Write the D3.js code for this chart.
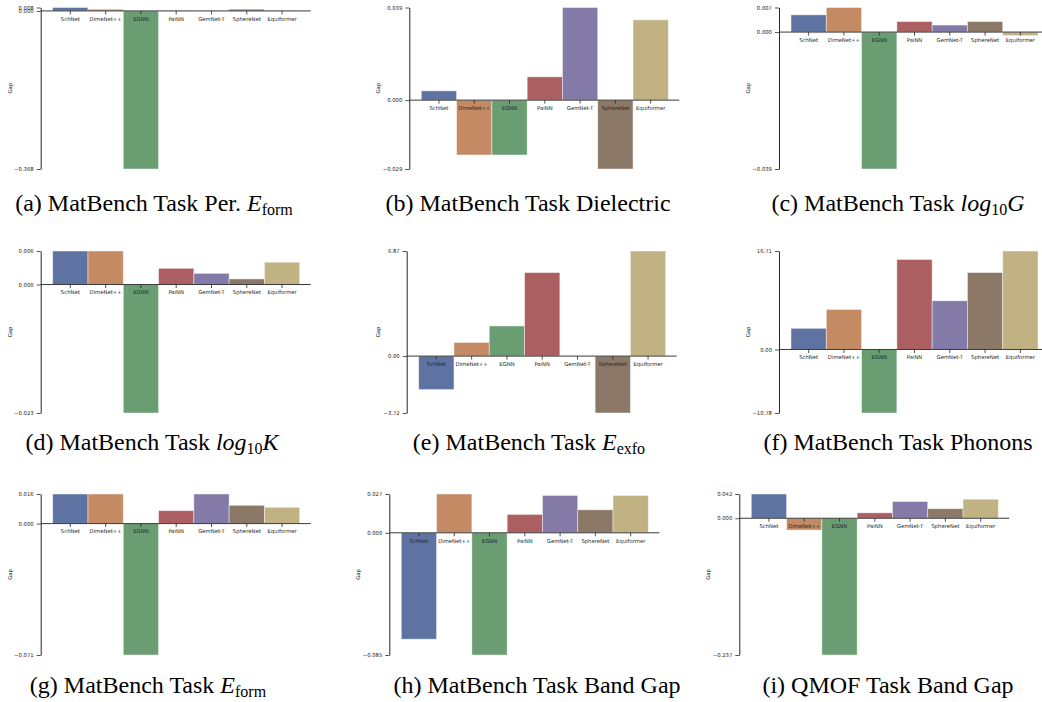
<!DOCTYPE html>
<html>
<head>
<meta charset="utf-8">
<script src="https://cdn.jsdelivr.net/npm/d3@7"></script>
<style>
  body { margin: 0; background: #fff; }
  svg { display: block; }
</style>
</head>
<body>
<div id="chart"></div>
<script>
const width = 1042;
const height = 702;

// models and colours (seaborn-like muted palette)
const models = ["SchNet", "DimeNet++", "EGNN", "PaiNN", "GemNet-T", "SphereNet", "Equiformer"];
const colors = ["#5f73a2", "#c48a64", "#6a9d71", "#ac5f61", "#847aa8", "#8b7867", "#c0b283"];

// gap values, one array per task
const gapPerEform = [0.008, 0.004, -0.368, 0.0004, 0.0003, 0.004, 0.001];
const gapDielectric = [0.0039, -0.0231, -0.0231, 0.0098, 0.039, -0.029, 0.0338];
const gapLogG = [0.0049, 0.007, -0.039, 0.003, 0.002, 0.003, -0.001];
const gapLogK = [0.006, 0.006, -0.023, 0.0029, 0.002, 0.001, 0.004];
const gapExfo = [-2.19, 0.89, 1.97, 5.46, 0.0, -3.72, 6.87];
const gapPhonons = [3.59, 6.79, -10.78, 15.27, 8.26, 13.05, 16.71];
const gapEform = [0.016, 0.016, -0.071, 0.007, 0.016, 0.0099, 0.0088];
const gapBandGap = [-0.074, 0.027, -0.085, 0.0128, 0.026, 0.016, 0.026];
const gapQmof = [0.042, -0.0205, -0.237, 0.0094, 0.029, 0.0165, 0.033];

const tickDigits = [3, 3, 3, 3, 2, 2, 3, 3, 3];

// captions: list of [text, style] pieces
const captions = [
    [["(a) MatBench Task Per. ", "n"], ["E", "i"], ["form", "sub"]],
    [["(b) MatBench Task Dielectric", "n"]],
    [["(c) MatBench Task ", "n"], ["log", "i"], ["10", "sub"], ["G", "i"]],
    [["(d) MatBench Task ", "n"], ["log", "i"], ["10", "sub"], ["K", "i"]],
    [["(e) MatBench Task ", "n"], ["E", "i"], ["exfo", "sub"]],
    [["(f) MatBench Task Phonons", "n"]],
    [["(g) MatBench Task ", "n"], ["E", "i"], ["form", "sub"]],
    [["(h) MatBench Task Band Gap", "n"]],
    [["(i) QMOF Task Band Gap", "n"]]
];

const allData = [gapPerEform, gapDielectric, gapLogG, gapLogK, gapExfo, gapPhonons, gapEform, gapBandGap, gapQmof];

// layout of the 3x3 grid
const axisXs = [40.7, 409.3, 779, 40.7, 406.7, 779, 40.7, 389.3, 739.3];
const labelXs = [10, 378, 748, 10, 378, 748, 10, 358, 708];
const rowTop = [7.5, 251, 494];
const rowBottom = [169, 413, 655];
const captionX = [154, 528, 898, 152, 529, 898, 148, 537, 888];
const captionY = [211, 450, 693];

const svg = d3.select("#chart")
    .append("svg")
    .attr("width", width)
    .attr("height", height)
    .attr("viewBox", [0, 0, width, height]);

const drawPanel = (i) => {
    const values = allData[i];
    const row = Math.floor(i / 3);
    const ax = axisXs[i];
    const top = rowTop[row];
    const bottom = rowBottom[row];
    const vmin = d3.min(values);
    const vmax = d3.max(values);

    const x = d3.scaleBand(models, [ax + 12, ax + 259]).padding(0);
    const y = d3.scaleLinear([vmin, vmax], [bottom, top]);

    const g = svg.append("g");

    // bars
    g.append("g")
        .selectAll("rect")
        .data(values)
        .join("rect")
        .attr("x", (d, j) => x(models[j]))
        .attr("width", x.bandwidth())
        .attr("y", d => y(Math.max(0, d)))
        .attr("height", d => Math.abs(y(d) - y(0)))
        .attr("fill", (d, j) => colors[j])
        .attr("stroke", "#ffffff")
        .attr("stroke-opacity", 0.55)
        .attr("stroke-width", 0.8);

    // zero line
    g.append("line")
        .attr("x1", ax)
        .attr("x2", ax + 270)
        .attr("y1", y(0))
        .attr("y2", y(0))
        .attr("stroke", "#3a3a3a")
        .attr("stroke-width", 1);

    // category axis on the zero line
    const xAxis = g.append("g")
        .attr("transform", `translate(0,${y(0)})`)
        .call(d3.axisBottom(x).tickSize(3.5).tickPadding(2.5));
    xAxis.select(".domain").remove();
    xAxis.selectAll("line").attr("stroke", "#262626").attr("stroke-width", 0.8);
    xAxis.selectAll("text")
        .attr("fill", "#262626")
        .style("font-family", "DejaVu Sans")
        .style("font-size", "5.3px");

    // value axis, ticks only at min, 0, max
    const yAxis = g.append("g")
        .attr("transform", `translate(${ax},0)`)
        .call(d3.axisLeft(y)
            .tickValues([vmin, 0, vmax])
            .tickFormat(d3.format(`.${tickDigits[i]}f`))
            .tickSize(4)
            .tickSizeOuter(0)
            .tickPadding(3));
    yAxis.select(".domain").attr("stroke", "#262626").attr("stroke-width", 1);
    yAxis.selectAll("line").attr("stroke", "#262626").attr("stroke-width", 0.8);
    yAxis.selectAll("text")
        .attr("fill", "#262626")
        .style("font-family", "DejaVu Sans")
        .style("font-size", "5.3px");

    // y label
    g.append("text")
        .attr("transform", `translate(${labelXs[i]},${(top + bottom) / 2}) rotate(-90)`)
        .attr("text-anchor", "middle")
        .attr("dy", "0.35em")
        .attr("fill", "#262626")
        .style("font-family", "DejaVu Sans")
        .style("font-size", "5.3px")
        .text("Gap");

    // caption
    const cap = svg.append("text")
        .attr("x", captionX[i])
        .attr("y", captionY[row])
        .attr("text-anchor", "middle")
        .attr("fill", "#000")
        .style("font-family", "Liberation Serif")
        .style("font-size", "24px");

    let shifted = false;
    captions[i].forEach(([txt, kind]) => {
        const t = cap.append("tspan").text(txt);
        if (kind === "i") t.style("font-style", "italic");
        if (kind === "sub") {
            t.style("font-size", "16px").attr("dy", shifted ? 0 : 4);
            shifted = true;
        } else if (shifted) {
            t.attr("dy", -4);
            shifted = false;
        }
    });
};

allData.forEach((d, i) => drawPanel(i));
</script>
</body>
</html>
